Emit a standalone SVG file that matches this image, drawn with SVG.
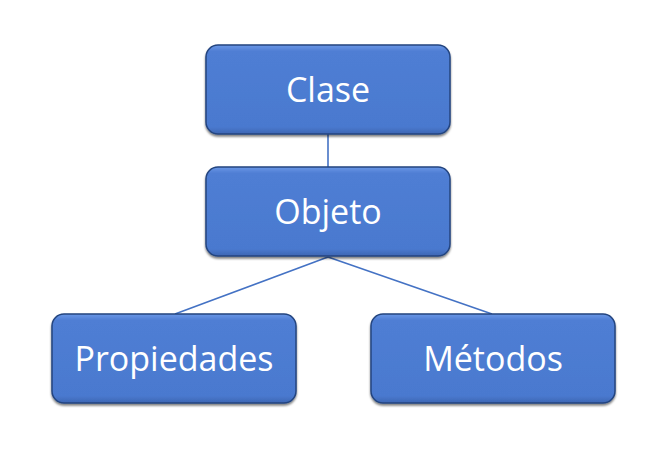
<svg xmlns="http://www.w3.org/2000/svg" width="667" height="449" viewBox="0 0 667 449">
<defs>
<linearGradient id="g" x1="0" y1="0" x2="0" y2="1">
<stop offset="0" stop-color="#6a97e6"/>
<stop offset="0.07" stop-color="#4f7ed4"/>
<stop offset="0.92" stop-color="#4a79cf"/>
<stop offset="1" stop-color="#3d66b3"/>
</linearGradient>
<filter id="sh" x="-10%" y="-10%" width="120%" height="130%">
<feDropShadow dx="0" dy="2" stdDeviation="1.3" flood-color="#000" flood-opacity="0.5"/>
</filter>
</defs>
<style>
.box{fill:url(#g);stroke:#24447f;stroke-width:1.5;filter:url(#sh)}
.lbl{font-family:"Open Sans","Noto Sans",sans-serif;font-size:34px;fill:#fff;text-anchor:middle}
.con{stroke:#4472c4;stroke-width:1.6;fill:none}
</style>
<rect width="667" height="449" fill="#fff"/>
<g id="connectors">
<line class="con" x1="328" y1="134" x2="328" y2="167"/>
<line class="con" x1="328" y1="257" x2="175" y2="314"/>
<line class="con" x1="328" y1="257" x2="492" y2="314"/>
</g>
<g id="clase">
<rect class="box" x="206" y="45" width="244" height="89" rx="12"/>
<text class="lbl" x="328" y="102">Clase</text>
</g>
<g id="objeto">
<rect class="box" x="206" y="167" width="244" height="89" rx="12"/>
<text class="lbl" x="328" y="224">Objeto</text>
</g>
<g id="propiedades">
<rect class="box" x="52" y="314" width="244" height="89" rx="12"/>
<text class="lbl" x="174" y="371">Propiedades</text>
</g>
<g id="metodos">
<rect class="box" x="371" y="314" width="244" height="89" rx="12"/>
<text class="lbl" x="493" y="371">Métodos</text>
</g>
</svg>
